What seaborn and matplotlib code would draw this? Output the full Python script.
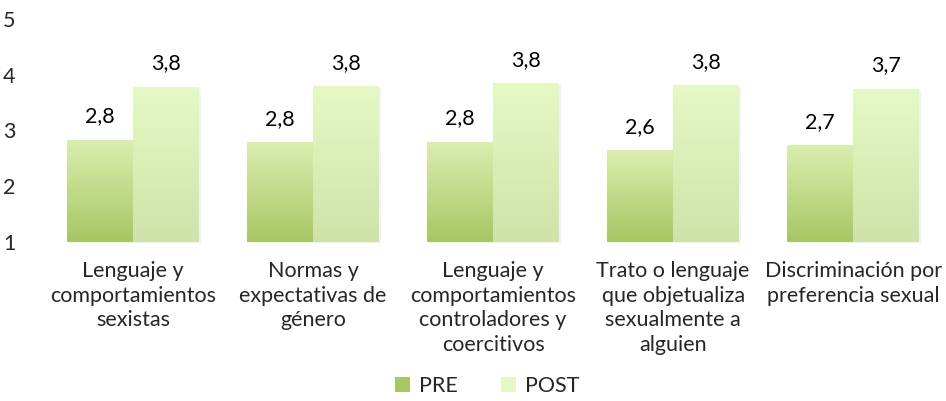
"""PRE vs POST bar chart with gradient-filled bars (Excel style)."""

import matplotlib.pyplot as plt
import numpy as np
import pandas as pd
import seaborn as sns
from matplotlib.colors import LinearSegmentedColormap
from matplotlib.patches import Patch, Rectangle
from matplotlib.transforms import ScaledTranslation

categories = [
    "Lenguaje y\ncomportamientos\nsexistas",
    "Normas y\nexpectativas de\ngénero",
    "Lenguaje y\ncomportamientos\ncontroladores y\ncoercitivos",
    "Trato o lenguaje\nque objetualiza\nsexualmente a\nalguien",
    "Discriminación por\npreferencia sexual",
]
series = ["PRE", "POST"]
pre = [2.82, 2.78, 2.79, 2.64, 2.73]
post = [3.77, 3.78, 3.84, 3.80, 3.74]

# bottom -> top gradient colours
grad = {
    "PRE": ("#a8c664", "#daeeaf"),
    "POST": ("#cfe2a8", "#e6f9c4"),
}

df = pd.DataFrame({
    "categoria": categories * 2,
    "serie": ["PRE"] * len(pre) + ["POST"] * len(post),
    "valor": pre + post,
})

sns.set_theme(style="white")
plt.rcParams["font.family"] = ["Lato", "DejaVu Sans"]
FS = 15.5

fig, ax = plt.subplots(figsize=(9.46, 4.01), dpi=100)
fig.subplots_adjust(left=0.0455, right=0.997, top=0.953, bottom=0.3965)

sns.barplot(data=df, x="categoria", y="valor", hue="serie", hue_order=series,
            palette={s: grad[s][0] for s in series}, width=0.733, gap=0,
            legend=False, ax=ax)

ymin = 1
ramp = np.linspace(0, 1, 256).reshape(-1, 1)
shadow_off = ScaledTranslation(1.5 / 72, -1 / 72, fig.dpi_scale_trans)
for name, cont in zip(series, ax.containers):
    cmap = LinearSegmentedColormap.from_list(name, grad[name])
    for bar in cont:
        x0, w, h = bar.get_x(), bar.get_width(), bar.get_height()
        bar.set_facecolor("none")
        bar.set_edgecolor("none")
        ax.add_patch(Rectangle((x0, ymin), w, h - ymin, color="#999999",
                               alpha=0.12, lw=0, zorder=1.5, clip_on=False,
                               transform=ax.transData + shadow_off))
        ax.imshow(ramp, extent=[x0, x0 + w, ymin, h], origin="lower",
                  aspect="auto", cmap=cmap, zorder=2)
        ax.annotate(f"{h:.1f}".replace(".", ","), (x0 + w / 2, h),
                    xytext=(0, 10), textcoords="offset points",
                    ha="center", va="bottom", fontsize=FS, color="black")

ax.set_xlim(-0.5, len(categories) - 0.5)
ax.set_ylim(1, 5)
ax.set_yticks([1, 2, 3, 4, 5])
ax.set_xlabel("")
ax.set_ylabel("")
ax.tick_params(axis="y", length=0, pad=20, labelsize=FS)
ax.tick_params(axis="x", length=0, pad=14, labelsize=FS)
for lbl in ax.get_xticklabels():
    lbl.set_linespacing(1.28)
sns.despine(ax=ax, left=True, bottom=True)

handles = [Patch(facecolor=grad[s][0] if s == "PRE" else grad[s][1],
                 edgecolor="none") for s in series]
fig.legend(handles, series, loc="lower center", bbox_to_anchor=(0.515, -0.035),
           ncol=2, frameon=False, fontsize=FS, handlelength=0.7,
           handleheight=0.7, handletextpad=0.4, columnspacing=2.0)

fig.savefig("out.png", dpi=100)
